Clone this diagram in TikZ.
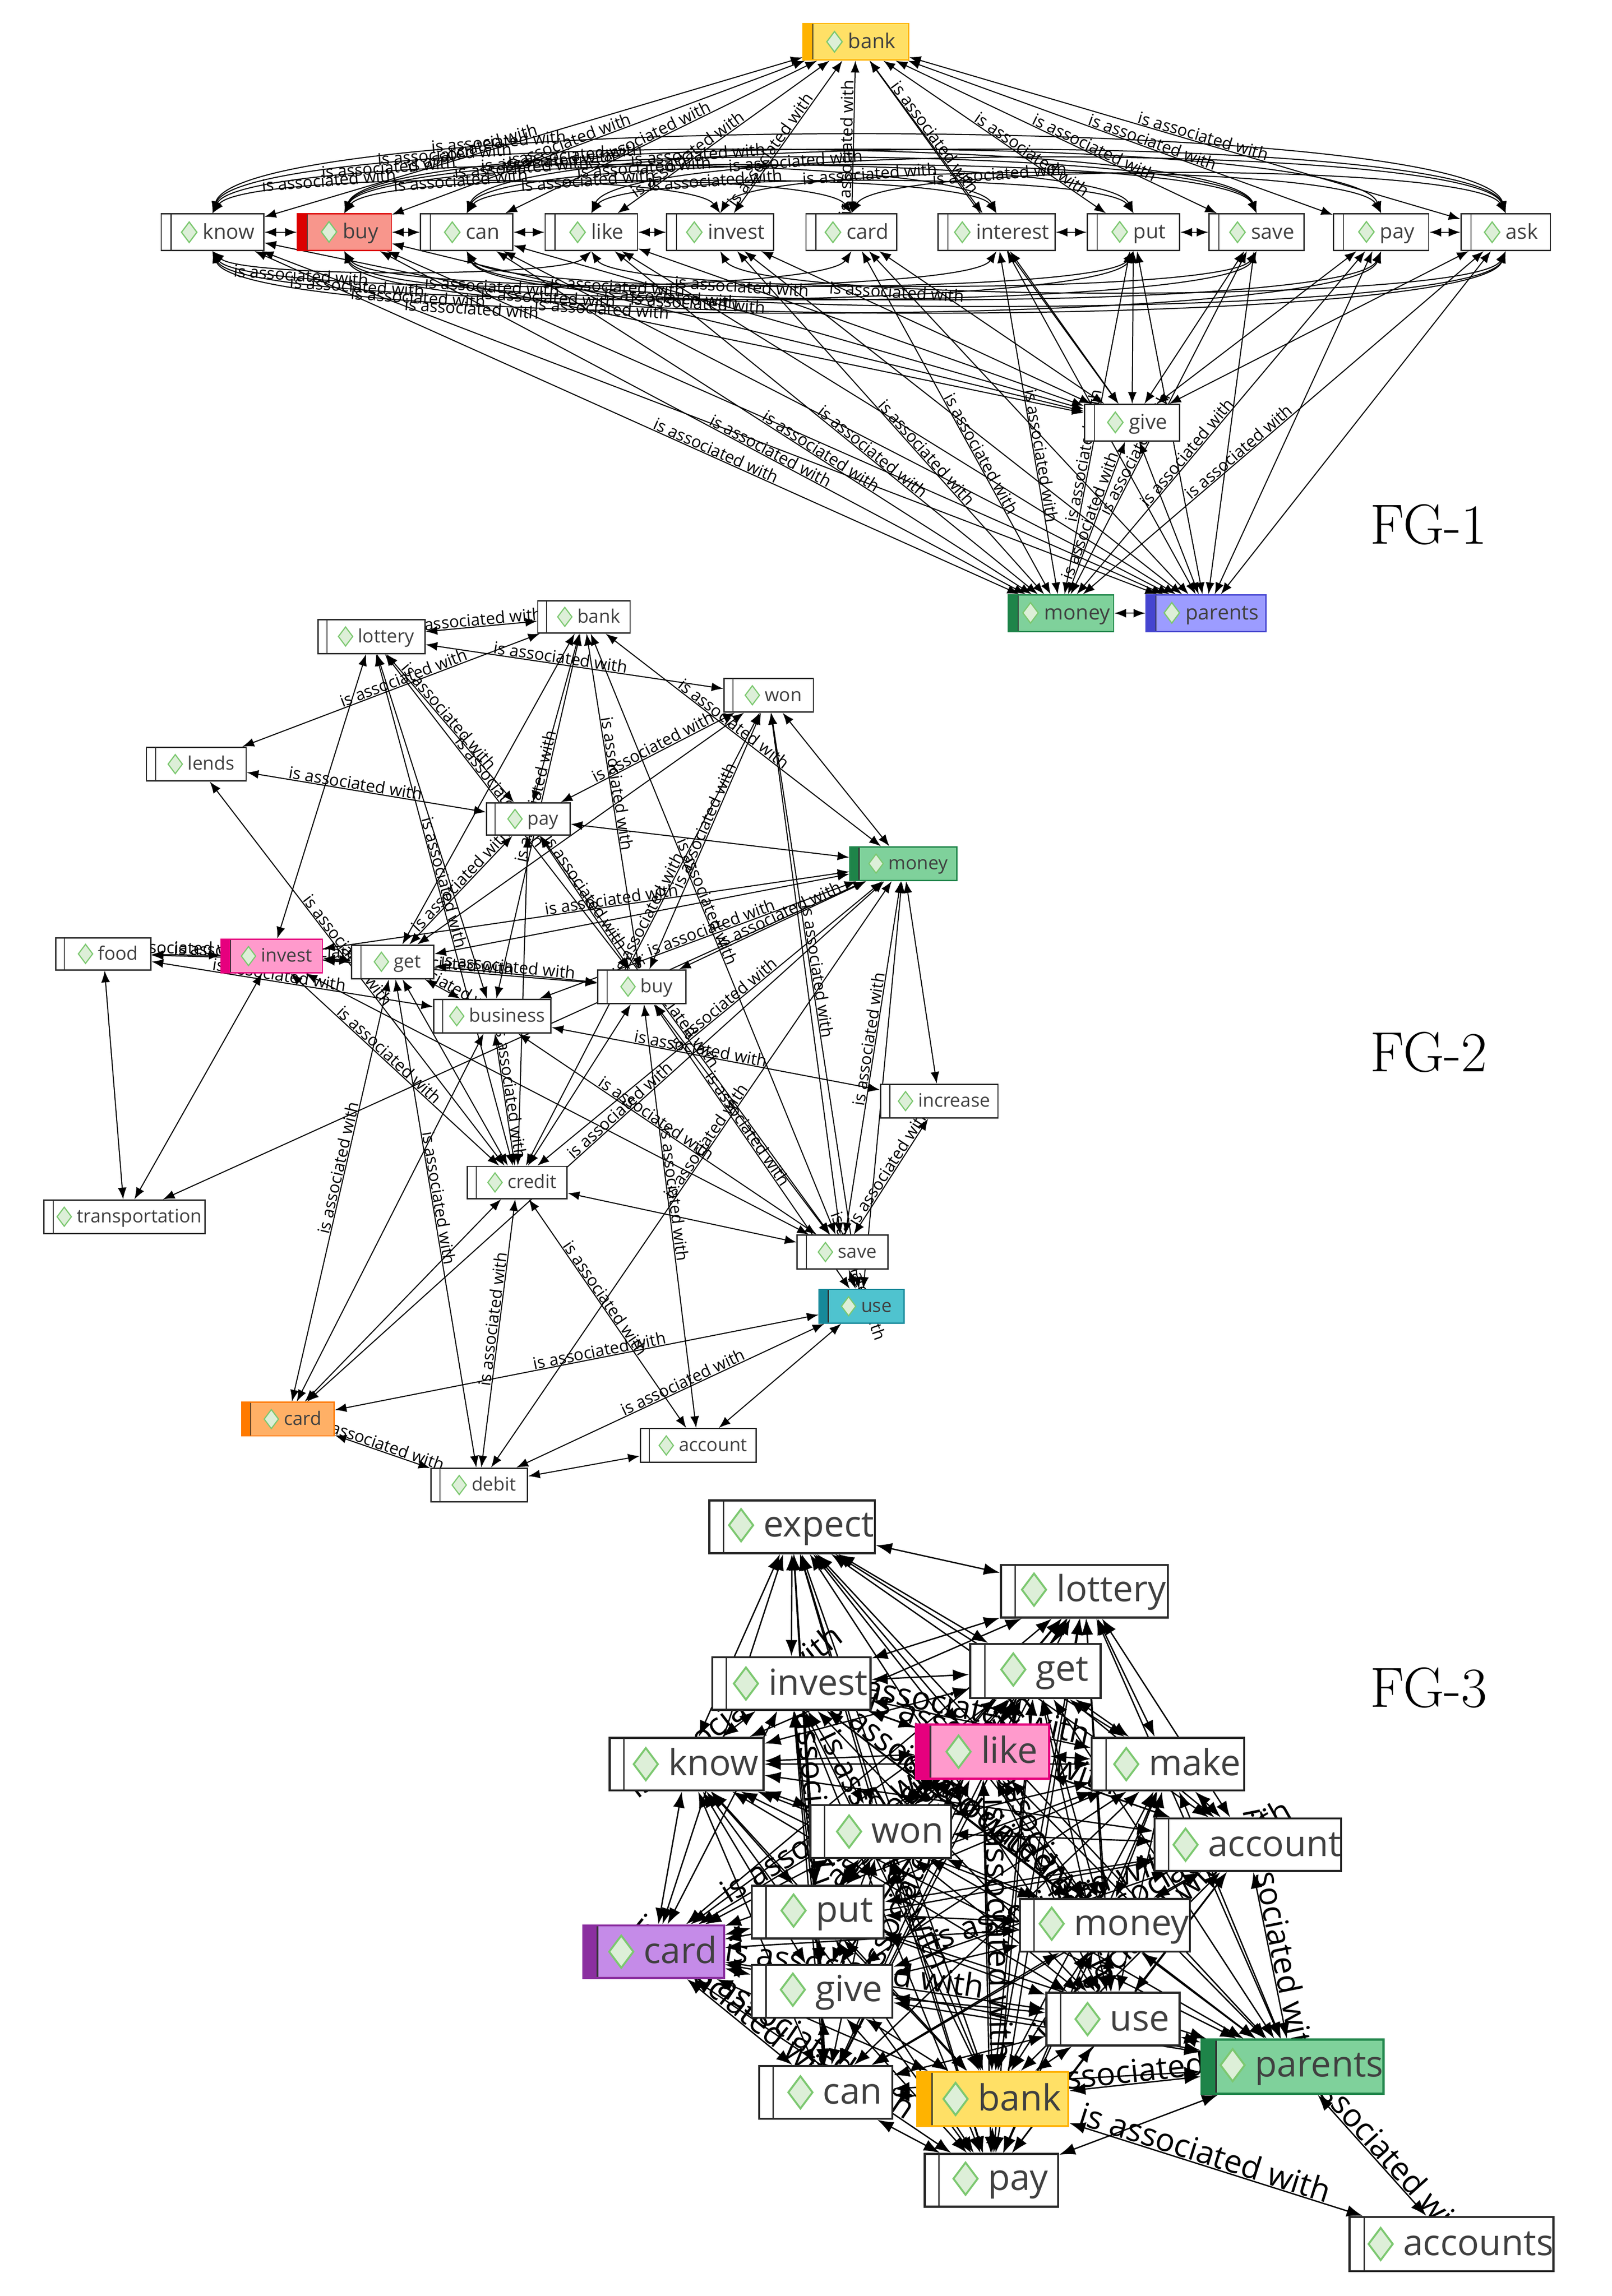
\documentclass[tikz,border=0pt]{standalone}
\usepackage{fontspec}
\newfontfamily\nf{Open Sans}
\usetikzlibrary{arrows.meta}
\pgfdeclarelayer{bg}\pgfsetlayers{bg,main}
\definecolor{dgr}{HTML}{7CC870}\definecolor{lgr}{HTML}{DDEFD8}
\definecolor{redF}{HTML}{F8968C}\definecolor{redS}{HTML}{DC0000}
\definecolor{yelF}{HTML}{FFE066}\definecolor{yelS}{HTML}{FFB300}
\definecolor{grnF}{HTML}{7FD19B}\definecolor{grnS}{HTML}{1E8449}
\definecolor{bluF}{HTML}{9C9CFF}\definecolor{bluS}{HTML}{4545D0}
\definecolor{pnkF}{HTML}{FF9ACC}\definecolor{pnkS}{HTML}{E6007E}
\definecolor{teaF}{HTML}{4FC3CF}\definecolor{teaS}{HTML}{16899A}
\definecolor{orgF}{HTML}{FFB066}\definecolor{orgS}{HTML}{FF7A00}
\definecolor{purF}{HTML}{C58BE8}\definecolor{purS}{HTML}{8B2FA0}
\newcommand\dm[1]{\tikz[baseline=-0.6ex,x=1cm,y=1cm]\draw[dgr,fill=lgr,line width={#1*0.12cm}](0,-#1)--({0.75*#1},0)--(0,#1)--({-0.75*#1},0)--cycle;}
\newcommand\cn[9]{\node[box,minimum width={(#4-#2)*1mm},minimum height={(#5-#3)*1mm},fill=#7,
 path picture={\fill[#8] (path picture bounding box.south west) rectangle ([xshift={(#5-#3)*0.27mm}]path picture bounding box.north west);
 \draw[black!80,line width={(#5-#3)*0.08pt}] ([xshift={(#5-#3)*0.27mm}]path picture bounding box.south west) -- ([xshift={(#5-#3)*0.27mm}]path picture bounding box.north west);},#9]
 (#1) at ({(#2+#4)/2},{(#3+#5)/2}) {\hspace*{0.5em}#6};}
\tikzset{box/.style={draw=black!85,inner sep=0pt,text=black!75},
 s1/.style={font=\nf\fontsize{40}{40}\selectfont,line width=2.5pt},
 s2/.style={font=\nf\fontsize{36}{36}\selectfont,line width=2.5pt},
 s3/.style={font=\nf\fontsize{70}{70}\selectfont,line width=4pt},
 e1/.style={line width=2pt,{Latex[length=0.8cm,width=0.6cm]}-{Latex[length=0.8cm,width=0.6cm]}},
 e3/.style={line width=2.6pt,{Latex[length=1.1cm,width=0.8cm]}-{Latex[length=1.1cm,width=0.8cm]}},
 l1/.style={sloped,above,inner sep=1pt,font=\nf\fontsize{32}{32}\selectfont},
 l3/.style={sloped,above,inner sep=1pt,font=\nf\fontsize{62}{62}\selectfont},
 fg/.style={font=\fontsize{110}{110}\selectfont}}
\begin{document}
\begin{tikzpicture}[x=1mm,y=-1mm]
\useasboundingbox (0,0) rectangle (1100,1567);
% ---------- FG-1
\cn{a1}{110}{146}{180}{171}{\dm{0.7}~know}{white}{white}{s1}
\cn{a2}{203}{146}{267}{171}{\dm{0.7}~buy}{redF}{redS}{s1,draw=redS}
\cn{a3}{287}{146}{350}{171}{\dm{0.7}~can}{white}{white}{s1}
\cn{a4}{372}{146}{435}{171}{\dm{0.7}~like}{white}{white}{s1}
\cn{a5}{455}{146}{528}{171}{\dm{0.7}~invest}{white}{white}{s1}
\cn{a6}{550}{146}{612}{171}{\dm{0.7}~card}{white}{white}{s1}
\cn{a7}{640}{146}{720}{171}{\dm{0.7}~interest}{white}{white}{s1}
\cn{a8}{742}{146}{805}{171}{\dm{0.7}~put}{white}{white}{s1}
\cn{a9}{825}{146}{890}{171}{\dm{0.7}~save}{white}{white}{s1}
\cn{a10}{910}{146}{975}{171}{\dm{0.7}~pay}{white}{white}{s1}
\cn{a11}{997}{146}{1058}{171}{\dm{0.7}~ask}{white}{white}{s1}
\cn{ab}{548}{16}{620}{41}{\dm{0.7}~bank}{yelF}{yelS}{s1,draw=yelS}
\cn{ag}{740}{276}{805}{301}{\dm{0.7}~give}{white}{white}{s1}
\cn{am}{688}{406}{760}{431}{\dm{0.7}~money}{grnF}{grnS}{s1,draw=grnS}
\cn{ap}{782}{406}{864}{431}{\dm{0.7}~parents}{bluF}{bluS}{s1,draw=bluS}
\node[fg] at (975,358) {FG-1};
\begin{pgfonlayer}{bg}
\foreach \i/\j in {1/2,2/3,3/4,4/5,7/8,8/9,10/11} \draw[e1] (a\i) -- (a\j);
\draw[e1] (am) -- (ap);
\foreach \i in {1,...,11}{
 \pgfmathsetmacro\pp{0.35+0.04*mod(\i,4)}
 \draw[e1] (a\i) -- node[l1,pos=\pp]{is associated with} (ab);
 \draw[e1] (a\i) -- node[l1,pos=0.6]{is associated with} (am);
 \draw[e1] (a\i) -- (ap);
 \draw[e1] (a\i) -- (ag);}
\draw[e1] (ag) -- node[l1]{is associated with} (am);
\draw[e1] (ag) -- (ap);
\draw[e1] (ab) -- (ag);
\foreach \i/\j in {1/5,1/7,1/9,1/11,2/6,2/8,2/10,3/7,3/9,4/8,4/11,5/10,6/11,3/11,2/9}{
 \pgfmathsetmacro\hh{(\j-\i)*7}
 \draw[e1] (a\i.north) .. controls +(20,-\hh) and +(-20,-\hh) .. node[l1,pos=0.3]{is associated with} (a\j.north);}
\foreach \i/\j in {1/6,1/8,1/10,2/7,2/9,3/8,3/11,4/9,5/11,1/4,2/11,3/10}{
 \pgfmathsetmacro\hh{(\j-\i)*6}
 \draw[e1] (a\i.south) .. controls +(20,\hh) and +(-20,\hh) .. node[l1,below,pos=0.3]{is associated with} (a\j.south);}
\end{pgfonlayer}
% ---------- FG-2
\cn{b1}{367}{410}{430}{432}{\dm{0.65}~bank}{white}{white}{s2}
\cn{b2}{217}{423}{290}{446}{\dm{0.65}~lottery}{white}{white}{s2}
\cn{b3}{494}{463}{555}{486}{\dm{0.65}~won}{white}{white}{s2}
\cn{b4}{100}{510}{168}{533}{\dm{0.65}~lends}{white}{white}{s2}
\cn{b5}{332}{548}{389}{570}{\dm{0.65}~pay}{white}{white}{s2}
\cn{b6}{580}{578}{653}{601}{\dm{0.65}~money}{grnF}{grnS}{s2,draw=grnS}
\cn{b7}{38}{640}{103}{662}{\dm{0.65}~food}{white}{white}{s2}
\cn{b8}{151}{641}{220}{664}{\dm{0.65}~invest}{pnkF}{pnkS}{s2,draw=pnkS}
\cn{b9}{240}{645}{296}{668}{\dm{0.65}~get}{white}{white}{s2}
\cn{b10}{408}{662}{468}{685}{\dm{0.65}~buy}{white}{white}{s2}
\cn{b11}{296}{682}{376}{705}{\dm{0.65}~business}{white}{white}{s2}
\cn{b12}{601}{740}{681}{763}{\dm{0.65}~increase}{white}{white}{s2}
\cn{b13}{30}{819}{140}{842}{\dm{0.65}~transportation}{white}{white}{s2}
\cn{b14}{319}{796}{387}{818}{\dm{0.65}~credit}{white}{white}{s2}
\cn{b15}{544}{843}{606}{866}{\dm{0.65}~save}{white}{white}{s2}
\cn{b16}{559}{880}{617}{903}{\dm{0.65}~use}{teaF}{teaS}{s2,draw=teaS}
\cn{b17}{165}{957}{228}{980}{\dm{0.65}~card}{orgF}{orgS}{s2,draw=orgS}
\cn{b18}{437}{975}{516}{998}{\dm{0.65}~account}{white}{white}{s2}
\cn{b19}{294}{1002}{360}{1025}{\dm{0.65}~debit}{white}{white}{s2}
\node[fg] at (975,718) {FG-2};
\begin{pgfonlayer}{bg}
\foreach \i/\j [count=\k] in {2/1,2/3,2/8,2/5,2/10,2/11,2/14,1/4,1/5,1/10,1/6,1/9,1/11,1/15,3/6,3/5,3/10,3/15,3/16,3/14,3/9,
 4/5,4/14,5/6,5/10,5/9,5/14,5/15,6/8,6/9,6/10,6/11,6/12,6/14,6/15,6/16,6/17,6/19,6/13,7/8,7/9,7/13,7/11,8/9,8/13,8/10,8/14,8/15,
 9/10,9/17,9/14,9/11,9/19,10/15,10/16,10/18,10/14,11/12,11/14,11/17,11/15,12/15,14/15,14/19,14/18,14/17,15/16,16/17,16/18,16/19,17/19,19/18}
 {\pgfmathtruncatemacro\m{mod(\k,3)}
  \ifnum\m=0 \draw[e1] (b\i) -- (b\j);
  \else \draw[e1] (b\i) -- node[l1,pos=0.45]{is associated with} (b\j);\fi}
\end{pgfonlayer}
% ---------- FG-3
\cn{c1}{484}{1024}{597}{1060}{\dm{1.1}~expect}{white}{white}{s3}
\cn{c2}{683}{1068}{797}{1104}{\dm{1.1}~lottery}{white}{white}{s3}
\cn{c3}{486}{1131}{594}{1167}{\dm{1.1}~invest}{white}{white}{s3}
\cn{c4}{662}{1122}{751}{1159}{\dm{1.1}~get}{white}{white}{s3}
\cn{c5}{416}{1186}{521}{1222}{\dm{1.1}~know}{white}{white}{s3}
\cn{c6}{625}{1177}{716}{1214}{\dm{1.1}~like}{pnkF}{pnkS}{s3,draw=pnkS}
\cn{c7}{745}{1186}{849}{1222}{\dm{1.1}~make}{white}{white}{s3}
\cn{c8}{553}{1232}{649}{1268}{\dm{1.1}~won}{white}{white}{s3}
\cn{c9}{790}{1241}{913}{1277}{\dm{1.1}~account}{white}{white}{s3}
\cn{c10}{513}{1287}{603}{1323}{\dm{1.1}~put}{white}{white}{s3}
\cn{c11}{696}{1296}{812}{1332}{\dm{1.1}~money}{white}{white}{s3}
\cn{c12}{398}{1314}{494}{1350}{\dm{1.1}~card}{purF}{purS}{s3,draw=purS}
\cn{c13}{513}{1341}{609}{1377}{\dm{1.1}~give}{white}{white}{s3}
\cn{c14}{714}{1360}{805}{1396}{\dm{1.1}~use}{white}{white}{s3}
\cn{c15}{822}{1392}{942}{1429}{\dm{1.1}~parents}{grnF}{grnS}{s3,draw=grnS}
\cn{c16}{518}{1410}{609}{1446}{\dm{1.1}~can}{white}{white}{s3}
\cn{c17}{626}{1414}{729}{1451}{\dm{1.1}~bank}{yelF}{yelS}{s3,draw=yelS}
\cn{c18}{631}{1470}{722}{1506}{\dm{1.1}~pay}{white}{white}{s3}
\cn{c19}{925}{1513}{1056}{1550}{\dm{1.1}~accounts}{white}{white}{s3}
\node[fg] at (975,1152) {FG-3};
\begin{pgfonlayer}{bg}
\foreach \i in {1,...,17}{
 \pgfmathtruncatemacro\s{\i+1}
 \foreach \j in {\s,...,18}{
  \pgfmathtruncatemacro\m{mod(\i*7+\j*3,6)}
  \ifnum\m=0 \draw[e3] (c\i) -- node[l3,pos=0.4]{is associated with} (c\j);
  \else \draw[e3] (c\i) -- (c\j);\fi}}
\draw[e3] (c17) -- node[l3,pos=0.45]{is associated with} (c19);
\draw[e3] (c15) -- node[l3,pos=0.5]{is associated with} (c19);
\end{pgfonlayer}
\end{tikzpicture}
\end{document}
